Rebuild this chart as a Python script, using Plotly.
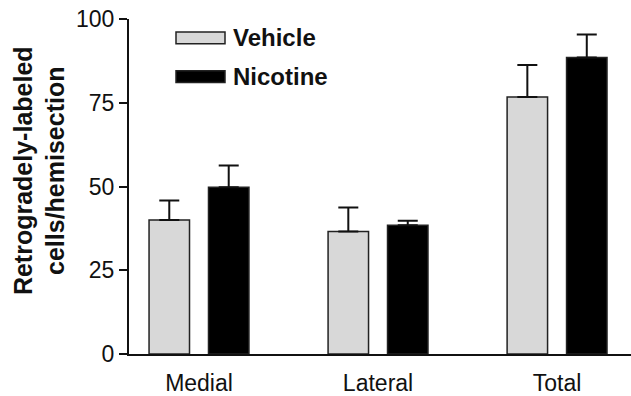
import plotly.graph_objects as go

categories = ["Medial", "Lateral", "Total"]
vehicle = [40.0, 36.6, 76.7]
vehicle_err = [5.8, 7.1, 9.6]
nicotine = [49.8, 38.4, 88.5]
nicotine_err = [6.5, 1.4, 6.9]
y_ticks = [0, 25, 50, 75, 100]
series_names = ["Vehicle", "Nicotine"]
series_colors = ["#d8d8d8", "#000000"]

W, H = 631, 396
ML, MR, MT, MB = 129, 0, 19, 40
PW = W - ML - MR
PH = H - MT - MB

fig = go.Figure()
bw = 0.226
for name, vals, errs, col, off in [
    (series_names[0], vehicle, vehicle_err, series_colors[0], -0.279),
    (series_names[1], nicotine, nicotine_err, series_colors[1], 0.053),
]:
    fig.add_trace(go.Bar(
        x=categories, y=vals, name=name, width=bw, offset=off,
        marker=dict(color=col, line=dict(color="#222222", width=1.5)),
        error_y=dict(type="data", array=errs, arrayminus=[0] * len(errs),
                     symmetric=False, color="#111111", thickness=2, width=10),
        showlegend=False,
    ))

font_family = "Liberation Sans, Arial, sans-serif"

def px_x(px):
    return (px - ML) / PW

def px_y(py):
    return (H - MB - py) / PH

legend_rows = [(series_names[0], series_colors[0], 38), (series_names[1], series_colors[1], 77)]
for name, col, cy in legend_rows:
    fig.add_shape(type="rect", xref="paper", yref="paper",
                  x0=px_x(176), x1=px_x(225), y0=px_y(cy + 6), y1=px_y(cy - 6),
                  fillcolor=col, line=dict(color="#222222", width=1.5))
    fig.add_annotation(text=f"<b>{name}</b>", xref="paper", yref="paper",
                       x=px_x(231), y=px_y(cy), xanchor="left", yanchor="middle",
                       showarrow=False, font=dict(size=24, color="#111111", family=font_family))

fig.add_annotation(text="<b>Retrogradely-labeled<br>cells/hemisection</b>",
                   xref="paper", yref="paper", x=px_x(39), y=px_y(172),
                   xanchor="center", yanchor="middle", textangle=-90, showarrow=False,
                   font=dict(size=25, color="#111111", family=font_family))

fig.update_layout(
    width=W, height=H,
    margin=dict(l=ML, r=MR, t=MT, b=MB, pad=0),
    paper_bgcolor="white", plot_bgcolor="white",
    font=dict(family=font_family, size=23, color="#111111"),
    barmode="overlay",
    xaxis=dict(range=[-0.391, 2.413], showline=True, linecolor="#111111", linewidth=2,
               ticks="outside", ticklen=7, tickcolor="rgba(0,0,0,0)", showgrid=False,
               zeroline=False, tickfont=dict(size=23)),
    yaxis=dict(range=[0, 100], tickvals=y_ticks, showline=True, linecolor="#111111",
               linewidth=2, ticks="outside", ticklen=8, tickwidth=2, tickcolor="#111111",
               showgrid=False, zeroline=False, tickfont=dict(size=23)),
)

fig.write_html("out.html")
